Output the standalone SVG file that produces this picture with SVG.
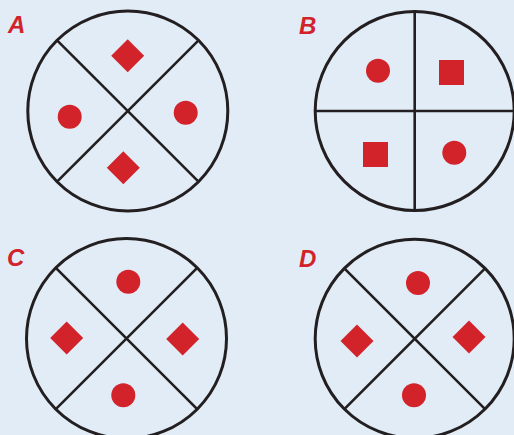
<svg xmlns="http://www.w3.org/2000/svg" width="514" height="435" viewBox="0 0 514 435">
<style>
.bg{fill:#E1ECF7}
.ring{fill:none;stroke:#231F20;stroke-width:3}
.div{stroke:#231F20;stroke-width:2.6;fill:none}
.mark{fill:#D2232A}
.lbl{font-family:"Liberation Sans",Arial,sans-serif;font-weight:bold;font-style:italic;font-size:24px;fill:#D2232A}
</style>
<defs>
<polygon id="dia" points="0,-16.5 16.5,0 0,16.5 -16.5,0"/>
</defs>
<rect class="bg" x="0" y="0" width="514" height="435"/>
<g id="A">
<text class="lbl" x="8" y="33">A</text>
<circle class="ring" cx="127.8" cy="111" r="100"/>
<use href="#dia" class="mark" x="127.7" y="55.7"/>
<use href="#dia" class="mark" x="123.3" y="167.7"/>
<circle class="mark" cx="69.7" cy="116.7" r="12"/>
<circle class="mark" cx="185.7" cy="112.7" r="12"/>
</g>
<g id="B">
<text class="lbl" x="299" y="34">B</text>
<circle class="ring" cx="414.7" cy="111" r="99.5"/>
<circle class="mark" cx="378" cy="70.7" r="12"/>
<rect class="mark" x="439" y="60" width="25" height="25"/>
<rect class="mark" x="363" y="142" width="25" height="25"/>
<circle class="mark" cx="454.3" cy="152.7" r="12"/>
</g>
<g id="C">
<text class="lbl" x="7" y="266">C</text>
<circle class="ring" cx="126.5" cy="338.5" r="100"/>
<circle class="mark" cx="128.3" cy="281.7" r="12"/>
<circle class="mark" cx="123.3" cy="395.3" r="12"/>
<use href="#dia" class="mark" x="66.7" y="338"/>
<use href="#dia" class="mark" x="182.7" y="339"/>
</g>
<g id="D">
<text class="lbl" x="299" y="267">D</text>
<circle class="ring" cx="414.7" cy="338.7" r="99.5"/>
<circle class="mark" cx="418" cy="283" r="12"/>
<circle class="mark" cx="414" cy="395.3" r="12"/>
<use href="#dia" class="mark" x="357" y="341"/>
<use href="#dia" class="mark" x="469" y="337"/>
</g>
<g id="connectors">
<line class="div" x1="57.1" y1="40.3" x2="198.5" y2="181.7"/>
<line class="div" x1="198.5" y1="40.3" x2="57.1" y2="181.7"/>
<line class="div" x1="414.7" y1="11.5" x2="414.7" y2="210.5"/>
<line class="div" x1="315.2" y1="111" x2="514.2" y2="111"/>
<line class="div" x1="55.8" y1="267.8" x2="197.2" y2="409.2"/>
<line class="div" x1="197.2" y1="267.8" x2="55.8" y2="409.2"/>
<line class="div" x1="344.3" y1="268.3" x2="485.1" y2="409.1"/>
<line class="div" x1="485.1" y1="268.3" x2="344.3" y2="409.1"/>
</g>
</svg>
